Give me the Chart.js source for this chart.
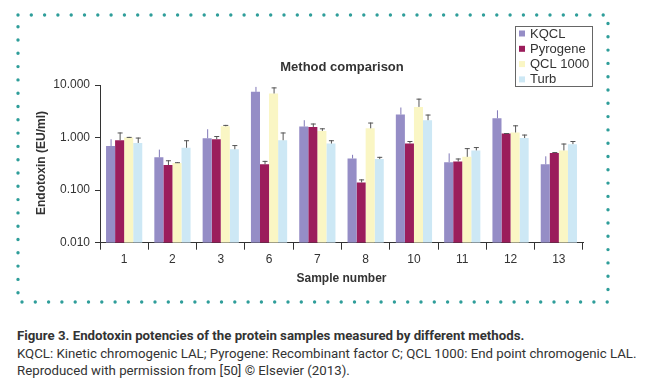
<!DOCTYPE html>
<html lang="en">
<head>
  <meta charset="UTF-8" />
  <title>Method comparison</title>
  <script src="https://cdn.jsdelivr.net/npm/chart.js"></script>
  <style>
    body {
      margin: 0;
      background: #fff;
      width: 650px;
      height: 387px;
      overflow: hidden;
      position: relative;
    }
    .chart-box {
      position: absolute;
      left: 0;
      top: 0;
      width: 650px;
      height: 320px;
    }
    .caption {
      position: absolute;
      left: 17px;
      top: 327px;
      font-family: Roboto, sans-serif;
      font-size: 13.25px;
      line-height: 17.5px;
      color: #333;
      white-space: nowrap;
    }
    .caption b { font-weight: bold; }
  </style>
</head>
<body>
  <div class="chart-box">
    <canvas id="methodChart" width="650" height="320"></canvas>
  </div>
  <div class="caption">
    <b>Figure 3. Endotoxin potencies of the protein samples measured by different methods.</b><br>
    KQCL: Kinetic chromogenic LAL; Pyrogene: Recombinant factor C; QCL 1000: End point chromogenic LAL.<br>
    Reproduced with permission from [50] © Elsevier (2013).
  </div>

  <script>
    // sample numbers
    const samples = ['1', '2', '3', '6', '7', '8', '10', '11', '12', '13'];

    // EU/ml
    const kqcl     = [0.69, 0.42, 0.97, 7.4, 1.62, 0.40, 2.74, 0.34, 2.33, 0.31];
    const pyrogene = [0.89, 0.30, 0.93, 0.31, 1.59, 0.14, 0.77, 0.35, 1.19, 0.51];
    const qcl1000  = [1.00, 0.33, 1.64, 6.9, 1.34, 1.50, 3.83, 0.43, 1.25, 0.57];
    const turb     = [0.79, 0.64, 0.60, 0.89, 0.77, 0.39, 2.14, 0.57, 0.98, 0.75];

    // upper end of the error bars
    const kqclErr     = [0.93, 0.59, 1.44, 9.2, 2.14, 0.47, 3.73, 0.50, 3.30, 0.44];
    const pyrogeneErr = [1.25, 0.37, 1.07, 0.36, 1.85, 0.16, 0.86, 0.40, 1.22, 0.53];
    const qcl1000Err  = [1.03, 0.34, 1.74, 9.0, 1.50, 1.93, 5.50, 0.63, 1.71, 0.77];
    const turbErr     = [1.00, 0.89, 0.72, 1.25, 0.89, 0.43, 2.74, 0.66, 1.14, 0.86];

    const yTicks = [0.01, 0.1, 1, 10];

    const FONT = '"Liberation Sans", Arial, sans-serif';

    const series = [
      { label: 'KQCL',     data: kqcl,     err: kqclErr,     color: '#958dc6', errColor: '#8078b8', cap: false },
      { label: 'Pyrogene', data: pyrogene, err: pyrogeneErr, color: '#9b1d5b', errColor: '#555',    cap: true },
      { label: 'QCL 1000', data: qcl1000,  err: qcl1000Err,  color: '#faf6c4', errColor: '#555',    cap: true },
      { label: 'Turb',     data: turb,     err: turbErr,     color: '#cde8f5', errColor: '#555',    cap: true }
    ];

    // dotted frame, titles, legend and error bars
    const decorPlugin = {
      id: 'decor',
      beforeDraw(chart) {
        const ctx = chart.ctx;
        ctx.save();
        ctx.strokeStyle = '#2f9e9a';
        ctx.lineWidth = 3.4;
        ctx.lineCap = 'round';
        ctx.setLineDash([0, 13.3]);
        ctx.strokeRect(18, 15, 590, 287);
        ctx.restore();
      },
      afterDatasetsDraw(chart) {
        const ctx = chart.ctx;
        const y = chart.scales.y;
        ctx.save();
        chart.data.datasets.forEach((ds, di) => {
          const s = series[di];
          chart.getDatasetMeta(di).data.forEach((bar, i) => {
            const top = y.getPixelForValue(s.err[i]);
            ctx.strokeStyle = s.errColor;
            ctx.lineWidth = 1;
            ctx.beginPath();
            ctx.moveTo(bar.x + 0.5, bar.y);
            ctx.lineTo(bar.x + 0.5, top);
            if (s.cap) {
              ctx.moveTo(bar.x - 2, top + 0.5);
              ctx.lineTo(bar.x + 3, top + 0.5);
            }
            ctx.stroke();
          });
        });
        ctx.restore();
      },
      afterDraw(chart) {
        const ctx = chart.ctx;
        const area = chart.chartArea;
        ctx.save();
        ctx.fillStyle = '#333';
        ctx.textAlign = 'center';
        ctx.textBaseline = 'middle';

        ctx.font = 'bold 13px ' + FONT;
        ctx.fillText('Method comparison', 342, 67);

        ctx.font = 'bold 12px ' + FONT;
        ctx.fillText('Sample number', (area.left + area.right) / 2, 279);

        ctx.save();
        ctx.translate(42, 163);
        ctx.rotate(-Math.PI / 2);
        ctx.fillText('Endotoxin (EU/ml)', 0, 0);
        ctx.restore();

        // legend
        ctx.strokeStyle = '#666';
        ctx.lineWidth = 1;
        ctx.strokeRect(515.5, 26.5, 77, 60);
        ctx.font = '13px ' + FONT;
        ctx.textAlign = 'left';
        series.forEach((s, i) => {
          const ly = 33.5 + i * 15.3;
          ctx.fillStyle = s.color;
          ctx.fillRect(519, ly - 3, 6, 6);
          ctx.fillStyle = '#333';
          ctx.fillText(s.label, 530, ly + 0.5);
        });
        ctx.restore();
      }
    };

    new Chart(document.getElementById('methodChart'), {
      type: 'bar',
      data: {
        labels: samples,
        datasets: series.map(s => ({
          label: s.label,
          data: s.data,
          backgroundColor: s.color,
          borderWidth: 0,
          categoryPercentage: 0.75,
          barPercentage: 1
        }))
      },
      options: {
        responsive: false,
        animation: false,
        layout: { padding: { top: 85, left: 0, right: 67, bottom: 37.3 } },
        plugins: {
          legend: { display: false },
          title: { display: false },
          tooltip: { enabled: false }
        },
        scales: {
          x: {
            grid: { offset: true, drawOnChartArea: false, tickLength: 7, color: '#333' },
            border: { color: '#333' },
            ticks: { color: '#333', font: { family: FONT, size: 12 }, padding: 3 },
            afterFit: s => { s.height = 40; }
          },
          y: {
            type: 'logarithmic',
            min: 0.01,
            max: 10,
            afterBuildTicks: s => { s.ticks = yTicks.map(v => ({ value: v })); },
            grid: { drawOnChartArea: false, tickLength: 5, color: '#333' },
            border: { color: '#333' },
            ticks: {
              color: '#333',
              font: { family: FONT, size: 12 },
              padding: 5,
              callback: v => Number(v).toFixed(3)
            },
            afterFit: s => { s.width = 100; }
          }
        }
      },
      plugins: [decorPlugin]
    });
  </script>
</body>
</html>
